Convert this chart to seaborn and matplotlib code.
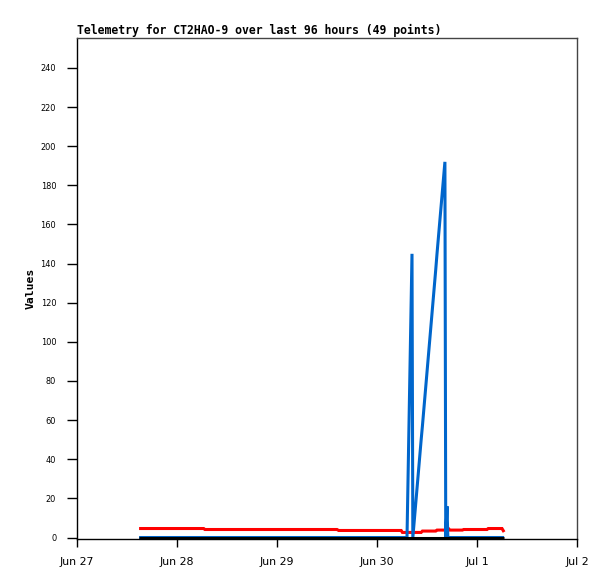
import matplotlib
matplotlib.use("Agg")
import matplotlib.pyplot as plt
import matplotlib.dates as mdates
import seaborn as sns
import pandas as pd

# hours after Jun 27 00:00
hours = [14.9, 16.5, 18.0, 21.5, 25.0, 28.5, 30.4, 30.7, 34.5, 38.5,
         40.5, 42.5, 46.5, 48.5, 50.5, 54.5, 56.5, 58.5, 62.4, 62.8,
         66.5, 68.0, 70.0, 73.5, 75.5, 77.8, 78.1, 79.2, 80.4, 80.6,
         82.6, 82.9, 86.1, 86.4, 88.3, 88.5, 88.8, 89.0, 89.5, 91.0,
         92.5, 92.8, 94.5, 96.5, 98.4, 98.7, 100.0, 102.0, 102.5]

red_vals = [4.6, 4.6, 4.6, 4.6, 4.6, 4.6, 4.6, 4.1, 4.1, 4.1,
            4.1, 4.1, 4.1, 4.1, 4.1, 4.1, 4.1, 4.1, 4.1, 3.6,
            3.6, 3.6, 3.6, 3.6, 3.6, 3.6, 2.6, 2.6, 2.6, 2.6,
            2.6, 3.3, 3.3, 3.8, 3.8, 3.8, 3.8, 4.9, 3.8, 3.8,
            3.8, 4.1, 4.1, 4.1, 4.1, 4.6, 4.6, 4.6, 2.8]

blue_vals = [0, 0, 0, 0, 0, 0, 0, 0, 0, 0,
             0, 0, 0, 0, 0, 0, 0, 0, 0, 0,
             0, 0, 0, 0, 0, 0, 0, 0, 145, 0,
             50, 57, 137, 145, 192, 0, 16, 0, 0, 0,
             0, 0, 0, 0, 0, 0, 0, 0, 0]

black_vals = [0, 0, 0, 0, 0, 0, 0, 0, 0, 0,
              0, 0, 0, 0, 0, 0, 0, 0, 0, 0,
              0, 0, 0, 0, 0, 0, 0, 0, 0, 0,
              0, 0, 0, 0, 0, 0, 0, 0, 0, 0,
              0, 0, 0, 0, 0, 0, 0, 0, 0]

y_ticks = [0, 20, 40, 60, 80, 100, 120, 140, 160, 180, 200, 220, 240]
x_tick_days = ["2024-06-27", "2024-06-28", "2024-06-29", "2024-06-30", "2024-07-01", "2024-07-02"]

title = "Telemetry for CT2HAO-9 over last 96 hours (49 points)"
ylabel = "Values"

start = pd.Timestamp("2024-06-27")
df = pd.DataFrame({
    "time": [start + pd.Timedelta(hours=h) for h in hours],
    "red": red_vals,
    "blue": blue_vals,
    "black": black_vals,
})

sns.set_style("white")
plt.rcParams["font.family"] = ["DejaVu Sans"]
plt.rcParams["text.color"] = "black"
plt.rcParams["axes.labelcolor"] = "black"
plt.rcParams["xtick.color"] = "black"
plt.rcParams["ytick.color"] = "black"

fig = plt.figure(figsize=(6.15, 5.79), dpi=100)
ax = fig.add_axes([77 / 615, 1 - 538.5 / 579, 500 / 615, 500.5 / 579])

lw = 2.2
kw = dict(linewidth=lw, solid_joinstyle="miter", solid_capstyle="butt", clip_on=False)
sns.lineplot(data=df, x="time", y="red", color="#ff0000", ax=ax, **kw)
sns.lineplot(data=df, x="time", y="blue", color="#0066cc", ax=ax, **kw)
sns.lineplot(data=df, x="time", y="black", color="#000000", ax=ax, **kw)

ax.set_xlim(pd.Timestamp(x_tick_days[0]), pd.Timestamp(x_tick_days[-1]))
ax.set_ylim(-0.5, 255.3)
ax.set_xticks([pd.Timestamp(d) for d in x_tick_days])
ax.xaxis.set_major_formatter(mdates.DateFormatter("%b %-d"))
ax.set_yticks(y_ticks)

ax.tick_params(axis="x", direction="out", length=6, width=1, color="black",
               labelcolor="black", pad=7, labelsize=7.9, bottom=True)
ax.tick_params(axis="y", direction="out", length=7, width=1, color="black",
               labelcolor="black", pad=8, labelsize=5.9, left=True)

for s in ["left", "bottom"]:
    ax.spines[s].set_color("black")
    ax.spines[s].set_linewidth(1)
for s in ["top", "right"]:
    ax.spines[s].set_color("#444444")
    ax.spines[s].set_linewidth(1)

ax.set_xlabel("")
ax.set_ylabel(ylabel, family="DejaVu Sans Mono", fontweight="bold", fontsize=8.2,
              color="black")
ax.yaxis.set_label_coords(-0.082, 0.5)
ax.set_title(title, loc="left", family="DejaVu Sans Mono", fontweight="bold",
             fontsize=8.3, pad=3, color="black")
ax.grid(False)

fig.savefig("out.png", dpi=100, facecolor="white")
